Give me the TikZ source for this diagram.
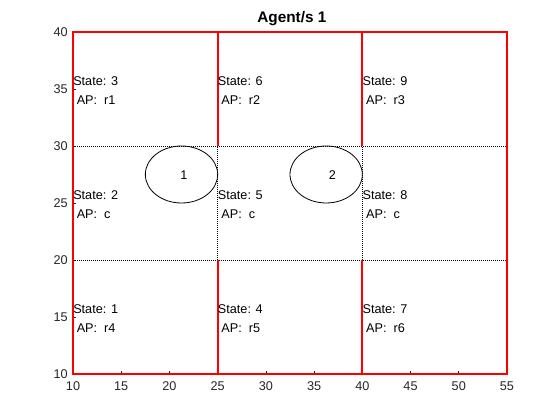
\documentclass[tikz,border=0pt]{standalone}
\usepackage{fontspec}
\setmainfont{Liberation Sans}
\usepackage{tikz}
\definecolor{wallred}{HTML}{FF0000}
\definecolor{axisgray}{HTML}{262626}

\begin{document}
\begin{tikzpicture}[
      x=7.233pt, y=8.55pt,
      wall/.style={draw=wallred, line width=1.6pt},
      cellgrid/.style={draw=black, line width=0.6pt, dash pattern=on 0.75pt off 0.75pt},
      agent/.style={draw=black, line width=0.6pt},
      stlbl/.style={anchor=west, inner sep=0pt, align=left, font=\fontsize{9.5}{14.2}\selectfont},
      axtick/.style={draw=axisgray, line width=0.5pt},
      ticklbl/.style={font=\fontsize{9.5}{11}\selectfont, text=axisgray, inner sep=0pt}]
    \useasboundingbox (2.430,5.965) rectangle (60.498,42.807);
    % ticks and tick labels
    \foreach \xv in {10,15,...,55} {
      \draw[axtick] (\xv,10) -- ++(0,0.27);
      \node[ticklbl] (xl\xv) at (\xv,8.95) {\xv};
    }
    \foreach \yv in {10,15,...,40} {
      \draw[axtick] (10,\yv) -- ++(0.32,0);
      \node[ticklbl, anchor=east] (yl\yv) at (9.48,\yv) {\yv};
    }
    \node[font=\fontsize{11.5}{13}\selectfont\bfseries, anchor=base, inner sep=0pt] (title) at (32.7,40.82) {Agent/s 1};
    % dotted cell borders
    \draw[cellgrid] (10,20) -- (55,20);
    \draw[cellgrid] (10,30) -- (55,30);
    \draw[cellgrid] (25,20) -- (25,30);
    \draw[cellgrid] (40,20) -- (40,30);
    % walls
    \draw[wall] (10,10) rectangle (55,40);
    \draw[wall] (25,10) -- (25,20);
    \draw[wall] (25,30) -- (25,40);
    \draw[wall] (40,10) -- (40,20);
    \draw[wall] (40,30) -- (40,40);
    % agents
    \draw[agent] (21.25,27.5) ellipse (3.75 and 2.5);
    \draw[agent] (36.25,27.5) ellipse (3.75 and 2.5);
    \node[ticklbl, text=black] (ag1) at (21.5,27.45) {1};
    \node[ticklbl, text=black] (ag2) at (36.9,27.45) {2};
    % state labels
    \node[stlbl] (st1) at (10,14.82) {State: 1\\\ AP:\ \ r4};
    \node[stlbl] (st2) at (10,24.82) {State: 2\\\ AP:\ \ c};
    \node[stlbl] (st3) at (10,34.82) {State: 3\\\ AP:\ \ r1};
    \node[stlbl] (st4) at (25,14.82) {State: 4\\\ AP:\ \ r5};
    \node[stlbl] (st5) at (25,24.82) {State: 5\\\ AP:\ \ c};
    \node[stlbl] (st6) at (25,34.82) {State: 6\\\ AP:\ \ r2};
    \node[stlbl] (st7) at (40,14.82) {State: 7\\\ AP:\ \ r6};
    \node[stlbl] (st8) at (40,24.82) {State: 8\\\ AP:\ \ c};
    \node[stlbl] (st9) at (40,34.82) {State: 9\\\ AP:\ \ r3};
  \end{tikzpicture}
\end{document}
